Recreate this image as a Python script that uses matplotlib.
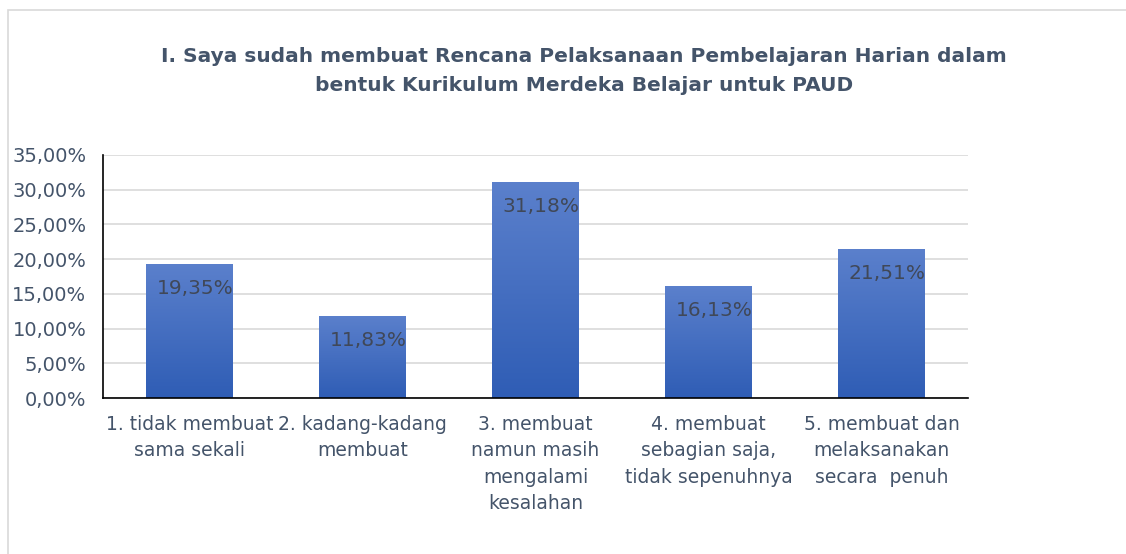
import matplotlib
matplotlib.use("Agg")
import matplotlib.pyplot as plt
from matplotlib.patches import Rectangle
from matplotlib.ticker import FuncFormatter
import numpy as np

categories = [
    "1. tidak membuat\nsama sekali",
    "2. kadang-kadang\nmembuat",
    "3. membuat\nnamun masih\nmengalami\nkesalahan",
    "4. membuat\nsebagian saja,\ntidak sepenuhnya",
    "5. membuat dan\nmelaksanakan\nsecara  penuh",
]
values = [19.35, 11.83, 31.18, 16.13, 21.51]
value_labels = ["19,35%", "11,83%", "31,18%", "16,13%", "21,51%"]
title = ("I. Saya sudah membuat Rencana Pelaksanaan Pembelajaran Harian dalam\n"
         "bentuk Kurikulum Merdeka Belajar untuk PAUD")

text_col = "#44546a"
plt.rcParams['font.family'] = ['DejaVu Sans']

fig = plt.figure(figsize=(11.26, 5.54), dpi=100)
# chart frame
fig.patches.append(Rectangle((8 / 1126, -0.01), 1.02, 1 - 10 / 554 + 0.01,
                             transform=fig.transFigure, fill=False,
                             edgecolor="#d9d9d9", linewidth=1.2))

ax = fig.add_axes([103 / 1126, 1 - 398 / 554, 865 / 1126, 243 / 554])
x = np.arange(len(values))
bars = ax.bar(x, values, width=0.5, color="#4472c4", zorder=2)

# vertical gradient in each bar
grad = np.linspace(0, 1, 256).reshape(-1, 1)
cmap = matplotlib.colors.LinearSegmentedColormap.from_list("g", ["#2f5db5", "#5b80cc"])
for b in bars:
    x0, w, h = b.get_x(), b.get_width(), b.get_height()
    im = ax.imshow(grad, cmap=cmap, origin="lower", aspect="auto",
                   extent=[x0, x0 + w, 0, h], zorder=2.5)
    im.set_clip_path(b)

for xi, v, lab in zip(x, values, value_labels):
    ax.annotate(lab, (xi, v), xytext=(4, -11), textcoords="offset points",
                ha="center", va="top", fontsize=14.5, color="#404858", zorder=3)

ax.set_xlim(-0.5, len(values) - 0.5)
ax.set_ylim(0, 35)
ax.set_yticks(np.arange(0, 36, 5))
ax.yaxis.set_major_formatter(FuncFormatter(lambda v, p: f"{v:.2f}%".replace(".", ",")))
ax.set_xticks(x)
ax.set_xticklabels(categories, fontsize=13.5, color=text_col, linespacing=1.5)
ax.tick_params(axis="y", labelsize=14, labelcolor=text_col, length=0, pad=12)
ax.tick_params(axis="x", length=0, pad=12)
ax.grid(axis="y", color="#d9d9d9", linewidth=1.2, zorder=0)
ax.set_axisbelow(True)
for s in ["top", "right"]:
    ax.spines[s].set_visible(False)
ax.spines["left"].set_color("black")
ax.spines["bottom"].set_color("black")
ax.spines["left"].set_linewidth(1.2)
ax.spines["bottom"].set_linewidth(1.2)

fig.text(584 / 1126, 1 - 71 / 554, title, ha="center", va="center",
         fontsize=14.5, fontweight="bold", color=text_col, linespacing=1.7)

fig.savefig("out.png", dpi=100)
